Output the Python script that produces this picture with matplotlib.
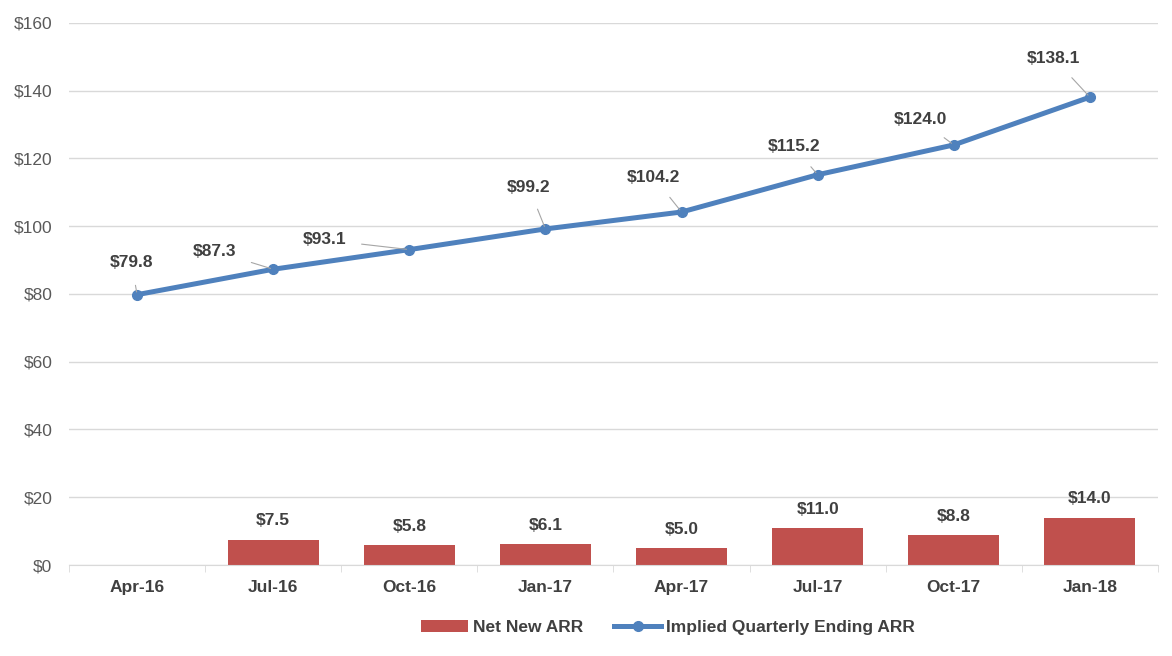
import matplotlib.pyplot as plt
import numpy as np

plt.rcParams['font.family'] = ['Liberation Sans', 'DejaVu Sans']

# Дані
quarters = ['Apr-16', 'Jul-16', 'Oct-16', 'Jan-17', 'Apr-17', 'Jul-17', 'Oct-17', 'Jan-18']
net_new_arr = [np.nan, 7.5, 5.8, 6.1, 5.0, 11.0, 8.8, 14.0]
ending_arr = [79.8, 87.3, 93.1, 99.2, 104.2, 115.2, 124.0, 138.1]

# зсуви підписів лінії (у точках)
label_offsets = [(-4, 23), (-42, 13), (-61, 7), (-12, 30), (-20, 25), (-17, 20), (-24, 18), (-26, 28)]

bar_color = '#c0504d'
line_color = '#4f81bd'
text_color = '#404040'

fig = plt.figure(figsize=(11.72, 6.56), dpi=100)
ax = fig.add_axes([0.0589, 0.1387, 0.9291, 0.8263])

x = np.arange(len(quarters))
bars = ax.bar(x, np.nan_to_num(net_new_arr), width=0.67, color=bar_color, label='Net New ARR', zorder=2)
line, = ax.plot(x, ending_arr, color=line_color, linewidth=3.6, marker='o', markersize=7,
                label='Implied Quarterly Ending ARR', zorder=3)

for xi, v in zip(x, net_new_arr):
    if np.isnan(v):
        continue
    ax.annotate(f'${v:.1f}', (xi, v), xytext=(0, 8), textcoords='offset points',
                ha='center', va='bottom', fontsize=12.5, fontweight='bold', color=text_color)

for xi, v, off in zip(x, ending_arr, label_offsets):
    ax.annotate(f'${v:.1f}', (xi, v), xytext=off, textcoords='offset points',
                ha='center', va='center', fontsize=12.5, fontweight='bold', color=text_color,
                arrowprops=dict(arrowstyle='-', color='#a6a6a6', lw=0.8, shrinkA=9, shrinkB=2),
                zorder=4)

ax.set_xlim(-0.5, len(quarters) - 0.5)
ax.set_ylim(0, 160)
ax.set_yticks(range(0, 161, 20))
ax.set_yticklabels([f'${t}' for t in range(0, 161, 20)], fontsize=12.5, color='#595959')
ax.set_xticks(x)
ax.set_xticklabels(quarters, fontsize=12.5, fontweight='bold', color=text_color)
ax.set_xticks(np.arange(-0.5, len(quarters)), minor=True)
ax.tick_params(axis='x', which='major', length=0, pad=11)
ax.tick_params(axis='x', which='minor', length=5, color='#d9d9d9')
ax.tick_params(axis='y', length=0, pad=12)
ax.yaxis.grid(True, color='#d9d9d9', linewidth=1)
ax.set_axisbelow(True)
for s in ['top', 'right', 'left']:
    ax.spines[s].set_visible(False)
ax.spines['bottom'].set_color('#d9d9d9')

ax.legend([bars, line], ['Net New ARR', 'Implied Quarterly Ending ARR'],
          loc='upper center', bbox_to_anchor=(0.55, -0.072), ncol=2, frameon=False,
          prop={'weight': 'bold', 'size': 12.5}, labelcolor=text_color,
          handlelength=2.7, columnspacing=1.8, handletextpad=0.3)

plt.savefig('out.png', dpi=100)
